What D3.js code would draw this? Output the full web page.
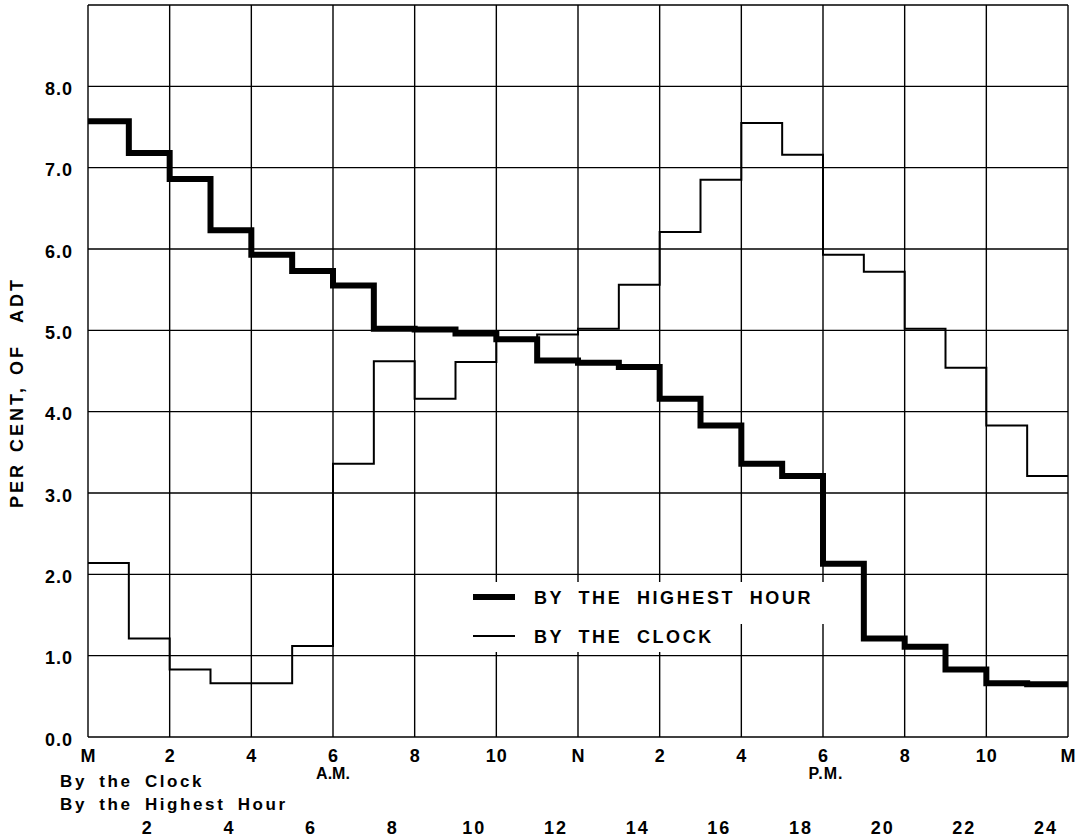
<!DOCTYPE html>
<html>
<head>
<meta charset="utf-8">
<script src="https://cdn.jsdelivr.net/npm/d3@7"></script>
<style>
  html, body { margin: 0; padding: 0; background: #fff; }
  svg { display: block; }
  text { font-family: "Liberation Sans", Arial, sans-serif; font-weight: bold; fill: #000; }
</style>
</head>
<body>
<svg id="chart" width="1087" height="839"></svg>
<script>
// Hourly share of average daily traffic (per cent of ADT)
const hours = d3.range(24);

// hour-by-hour volume, ordered by the clock (midnight to midnight)
const byClock = [2.14, 1.21, 0.83, 0.66, 0.66, 1.12, 3.36, 4.62, 4.16, 4.61, 4.88, 4.95,
                 5.02, 5.56, 6.21, 6.85, 7.55, 7.16, 5.93, 5.72, 5.02, 4.54, 3.83, 3.21];

// the same hours ranked from the highest hour down
const byHighest = [7.57, 7.18, 6.86, 6.23, 5.93, 5.73, 5.55, 5.02, 5.01, 4.96, 4.89, 4.63,
                   4.60, 4.55, 4.16, 3.83, 3.36, 3.21, 2.13, 1.21, 1.11, 0.83, 0.66, 0.65];

// tick labels
const clockTicks = d3.range(0, 25, 2);
const clockLabels = ["M", "2", "4", "6", "8", "10", "N", "2", "4", "6", "8", "10", "M"];
const rankTicks = d3.range(2, 25, 2);
const rankLabels = ["2", "4", "6", "8", "10", "12", "14", "16", "18", "20", "22", "24"];
const yTicks = d3.range(0, 9);

const legendItems = [
  { label: "BY THE HIGHEST HOUR", width: 6 },
  { label: "BY THE CLOCK", width: 2 }
];

const margin = { top: 5, right: 19, bottom: 102, left: 88 };
const W = 1087, H = 839;
const svg = d3.select("#chart");

const x = d3.scaleLinear().domain([0, 24]).range([margin.left, W - margin.right]);
const y = d3.scaleLinear().domain([0, 9]).range([H - margin.bottom, margin.top]);
// ranked-hour scale sits a little over half an hour left of the clock scale
const xRank = d3.scaleLinear().domain([0.55, 24.55]).range([margin.left, W - margin.right]);

const ink = "#000";
const font = "'Liberation Sans', Arial, sans-serif";

// grid
const grid = svg.append("g").attr("stroke", ink).attr("stroke-width", 1.4);
grid.selectAll("line.v").data(clockTicks).join("line")
  .attr("x1", d => x(d)).attr("x2", d => x(d))
  .attr("y1", y(0)).attr("y2", y(9));
grid.selectAll("line.h").data(d3.range(0, 10)).join("line")
  .attr("x1", x(0)).attr("x2", x(24))
  .attr("y1", d => y(d)).attr("y2", d => y(d));

// white panel behind the legend
const panel = svg.append("g").attr("fill", "#fff");
panel.append("rect").attr("x", 466).attr("y", 582).attr("width", 366).attr("height", 42);
panel.append("rect").attr("x", 466).attr("y", 623).attr("width", 250).attr("height", 29);

// step lines
const step = d3.line()
  .x(d => x(d[0]))
  .y(d => y(d[1]))
  .curve(d3.curveStepAfter);
const toSteps = vals => hours.map(h => [h, vals[h]]).concat([[24, vals[23]]]);

svg.append("path")
  .datum(toSteps(byClock))
  .attr("fill", "none").attr("stroke", ink).attr("stroke-width", 2)
  .attr("d", step);

svg.append("path")
  .datum(toSteps(byHighest))
  .attr("fill", "none").attr("stroke", ink).attr("stroke-width", 6)
  .attr("stroke-linejoin", "miter")
  .attr("d", step);

function styleTicks(sel, size, spacing) {
  sel.selectAll("text")
    .style("font-size", size + "px").style("letter-spacing", spacing + "px")
    .style("font-family", font).style("font-weight", "bold")
    .attr("fill", ink);
}

// y axis labels
const yAxis = svg.append("g")
  .attr("transform", `translate(${margin.left},0)`)
  .call(d3.axisLeft(y).tickValues(yTicks).tickFormat(d3.format(".1f")).tickSize(0).tickPadding(15));
yAxis.select(".domain").remove();
styleTicks(yAxis, 18, 1);
yAxis.selectAll("text").attr("dy", "0.45em");

// clock-hour axis
const xAxis = svg.append("g")
  .attr("transform", `translate(0,${y(0)})`)
  .call(d3.axisBottom(x).tickValues(clockTicks).tickFormat((d, i) => clockLabels[i]).tickSize(0).tickPadding(12));
xAxis.select(".domain").remove();
styleTicks(xAxis, 18, 1);

// ranked-hour axis
const rAxis = svg.append("g")
  .attr("transform", `translate(0,${y(0)})`)
  .call(d3.axisBottom(xRank).tickValues(rankTicks).tickFormat((d, i) => rankLabels[i]).tickSize(0).tickPadding(84));
rAxis.select(".domain").remove();
styleTicks(rAxis, 18, 2);

// A.M. / P.M. markers
svg.append("text").attr("x", x(6)).attr("y", 779).attr("text-anchor", "middle")
  .style("font-size", "16px").text("A.M.");
svg.append("text").attr("x", x(18) + 3).attr("y", 779).attr("text-anchor", "middle")
  .style("font-size", "16px").style("letter-spacing", "1px").text("P.M.");

// axis row captions
svg.append("text").attr("x", 60).attr("y", 787)
  .style("font-size", "17px").style("letter-spacing", "2.6px").style("word-spacing", "5px")
  .text("By the Clock");
svg.append("text").attr("x", 60).attr("y", 810)
  .style("font-size", "17px").style("letter-spacing", "2.6px").style("word-spacing", "5px")
  .text("By the Highest Hour");

// y title
const yTitle = svg.append("text")
  .attr("transform", "translate(23,508) rotate(-90)")
  .style("font-size", "18px").style("letter-spacing", "3px");
yTitle.append("tspan").text("PER");
yTitle.append("tspan").attr("dx", 10).text("CENT,");
yTitle.append("tspan").attr("dx", 10).text("OF");
yTitle.append("tspan").attr("dx", 22).text("ADT");

// legend
const legend = svg.append("g");
legendItems.forEach((item, i) => {
  const ly = 597 + i * 39;
  legend.append("line")
    .attr("x1", 473).attr("x2", 515).attr("y1", ly).attr("y2", ly)
    .attr("stroke", ink).attr("stroke-width", item.width);
  legend.append("text")
    .attr("x", 534).attr("y", ly + 7)
    .style("font-size", "18px").style("letter-spacing", "2.6px").style("word-spacing", "7px")
    .text(item.label);
});
</script>
</body>
</html>
